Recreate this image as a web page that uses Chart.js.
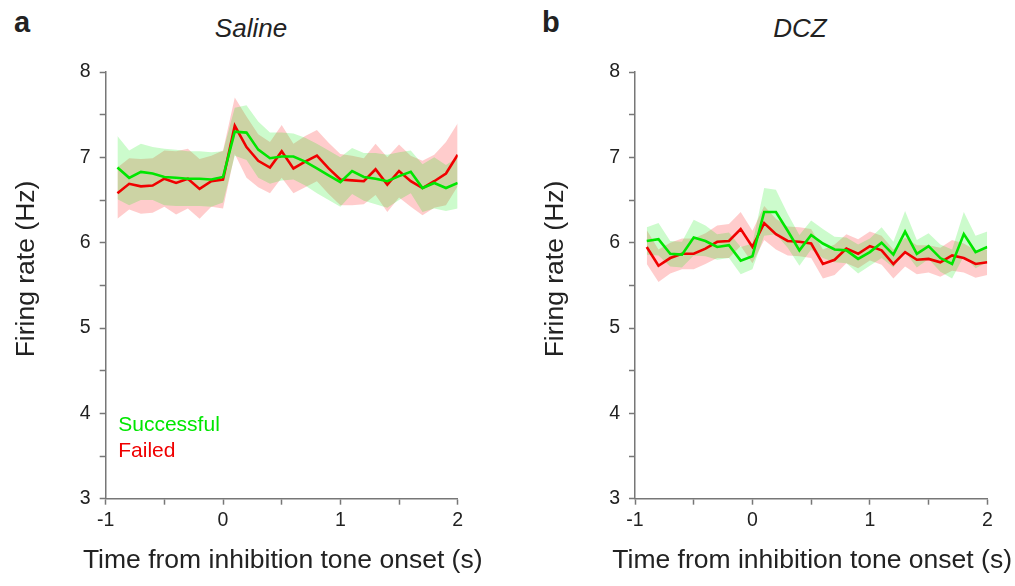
<!DOCTYPE html>
<html>
<head>
<meta charset="utf-8">
<script src="https://cdn.jsdelivr.net/npm/chart.js@4"></script>
<style>
  body { margin: 0; background: #fff; width: 1015px; height: 586px; position: relative; overflow: hidden; font-family: "Liberation Sans", Arial, sans-serif; color: #222; }
  .panel { position: absolute; top: 0; height: 586px; }
  .tag { position: absolute; font-weight: bold; font-size: 29px; line-height: 29px; }
  .ttl { position: absolute; font-style: italic; font-size: 26px; line-height: 26px; width: 200px; text-align: center; }
</style>
</head>
<body>
<div class="tag" style="left:14px; top:8px;">a</div>
<div class="tag" style="left:542px; top:8px;">b</div>
<div class="ttl" style="left:151px; top:15px;">Saline</div>
<div class="ttl" style="left:700px; top:15px;">DCZ</div>
<div class="panel" style="left:0; width:520px;"><canvas id="chartA" width="520" height="586"></canvas></div>
<div class="panel" style="left:520px; width:495px;"><canvas id="chartB" width="495" height="586"></canvas></div>
<script>
// time bins (s from inhibition tone onset)
const times = [-0.9, -0.8, -0.7, -0.6, -0.5, -0.4, -0.3, -0.2, -0.1, 0.0,
               0.1, 0.2, 0.3, 0.4, 0.5, 0.6, 0.7, 0.8, 0.9, 1.0,
               1.1, 1.2, 1.3, 1.4, 1.5, 1.6, 1.7, 1.8, 1.9, 2.0];

// Saline
const salineSuccess = [6.88, 6.76, 6.83, 6.81, 6.77, 6.76, 6.75, 6.75, 6.74, 6.77,
                       7.30, 7.29, 7.09, 6.99, 7.01, 7.01, 6.95, 6.87, 6.79, 6.71,
                       6.84, 6.77, 6.75, 6.72, 6.78, 6.83, 6.64, 6.70, 6.64, 6.70];
const salineSuccessSem = [0.37, 0.32, 0.33, 0.31, 0.33, 0.33, 0.32, 0.32, 0.32, 0.30,
                          0.28, 0.32, 0.33, 0.30, 0.28, 0.27, 0.28, 0.29, 0.29, 0.29,
                          0.27, 0.28, 0.30, 0.31, 0.28, 0.25, 0.28, 0.30, 0.27, 0.30];
const salineFailed = [6.58, 6.69, 6.66, 6.67, 6.75, 6.70, 6.75, 6.63, 6.72, 6.74,
                      7.37, 7.12, 6.96, 6.88, 7.07, 6.87, 6.95, 7.02, 6.87, 6.74,
                      6.73, 6.72, 6.86, 6.68, 6.84, 6.72, 6.64, 6.72, 6.81, 7.03];
const salineFailedSem = [0.30, 0.30, 0.32, 0.32, 0.33, 0.37, 0.35, 0.35, 0.30, 0.34,
                         0.33, 0.36, 0.31, 0.30, 0.31, 0.29, 0.30, 0.30, 0.30, 0.30,
                         0.29, 0.27, 0.30, 0.32, 0.31, 0.30, 0.32, 0.31, 0.37, 0.37];

// DCZ
const dczSuccess = [6.02, 6.04, 5.87, 5.86, 6.06, 6.02, 5.95, 5.97, 5.79, 5.84,
                    6.36, 6.36, 6.14, 5.91, 6.09, 5.99, 5.92, 5.91, 5.81, 5.89,
                    6.00, 5.86, 6.13, 5.87, 5.96, 5.82, 5.75, 6.10, 5.89, 5.95];
const dczSuccessSem = [0.16, 0.19, 0.15, 0.15, 0.21, 0.18, 0.15, 0.15, 0.16, 0.15,
                       0.28, 0.26, 0.20, 0.18, 0.17, 0.17, 0.15, 0.15, 0.17, 0.16,
                       0.18, 0.15, 0.24, 0.16, 0.15, 0.16, 0.17, 0.26, 0.19, 0.18];
const dczFailed = [5.95, 5.73, 5.82, 5.87, 5.87, 5.93, 6.01, 6.02, 6.16, 5.95,
                   6.23, 6.10, 6.02, 6.01, 5.99, 5.75, 5.80, 5.93, 5.87, 5.96,
                   5.91, 5.75, 5.89, 5.80, 5.81, 5.77, 5.85, 5.82, 5.75, 5.77];
const dczFailedSem = [0.20, 0.19, 0.18, 0.18, 0.18, 0.18, 0.19, 0.20, 0.20, 0.19,
                      0.20, 0.18, 0.17, 0.17, 0.17, 0.17, 0.18, 0.17, 0.17, 0.17,
                      0.17, 0.17, 0.17, 0.17, 0.16, 0.17, 0.18, 0.17, 0.16, 0.15];

const GREEN = "#00e600";
const RED = "#f00000";
const GREEN_FILL = "rgba(0, 235, 0, 0.2)";
const RED_FILL = "rgba(255, 0, 0, 0.2)";
const AXIS = "#777";
const FONT = "'Liberation Sans', Arial, sans-serif";

Chart.defaults.font.family = FONT;
Chart.defaults.color = "#222";

function pts(vals) {
    return times.map((t, i) => ({ x: t, y: vals[i] }));
}

function band(mean, sem, fill, order) {
    return [
        {
            data: pts(mean.map((m, i) => m + sem[i])),
            borderWidth: 0, pointRadius: 0, backgroundColor: fill,
            fill: "+1", order: order
        },
        {
            data: pts(mean.map((m, i) => m - sem[i])),
            borderWidth: 0, pointRadius: 0, fill: false, order: order
        }
    ];
}

function line(mean, color, order) {
    return {
        data: pts(mean), borderColor: color, borderWidth: 2.6,
        pointRadius: 0, fill: false, tension: 0, order: order
    };
}

// axis titles (wider than the plot, so Chart.js would squeeze them) and the legend text
const panelText = {
    id: "panelText",
    afterDraw(chart, args, opts) {
        const ctx = chart.ctx;
        const area = chart.chartArea;
        const xs = chart.scales.x, ys = chart.scales.y;
        ctx.save();
        ctx.fillStyle = "#222";
        ctx.font = "26.5px " + FONT;
        ctx.textAlign = "center";
        ctx.textBaseline = "alphabetic";
        ctx.fillText("Time from inhibition tone onset (s)", (area.left + area.right) / 2 + 1, 567.5);
        ctx.save();
        ctx.translate(opts.yTitleX, 269);
        ctx.rotate(-Math.PI / 2);
        ctx.fillText("Firing rate (Hz)", 0, 0);
        ctx.restore();
        if (opts.legend) {
            ctx.font = "21px " + FONT;
            ctx.textAlign = "left";
            ctx.textBaseline = "middle";
            ctx.fillStyle = GREEN;
            ctx.fillText("Successful", xs.getPixelForValue(-0.893), ys.getPixelForValue(3.86));
            ctx.fillStyle = RED;
            ctx.fillText("Failed", xs.getPixelForValue(-0.893), ys.getPixelForValue(3.56));
        }
        ctx.restore();
    }
};

function makeChart(id, success, successSem, failed, failedSem, yScaleWidth, yTitleX, padRight, showLegend) {
    new Chart(document.getElementById(id), {
        type: "line",
        data: {
            datasets: [
                ...band(failed, failedSem, RED_FILL, 4),
                ...band(success, successSem, GREEN_FILL, 3),
                line(failed, RED, 2),
                line(success, GREEN, 1)
            ]
        },
        options: {
            responsive: false,
            animation: false,
            layout: { padding: { top: 72, right: padRight, bottom: 0, left: 0 } },
            plugins: {
                legend: { display: false },
                tooltip: { enabled: false },
                panelText: { yTitleX: yTitleX, legend: showLegend }
            },
            scales: {
                x: {
                    type: "linear", min: -1, max: 2,
                    afterFit: s => { s.height = 87.3; },
                    border: { color: AXIS, width: 1.5 },
                    grid: { drawOnChartArea: false, drawTicks: true, tickLength: 6, color: AXIS, tickWidth: 1.5 },
                    ticks: {
                        stepSize: 0.5, padding: 4, font: { size: 19.5 }, maxRotation: 0,
                        callback: v => Number.isInteger(v) ? String(v) : ""
                    }
                },
                y: {
                    min: 3, max: 8,
                    afterFit: s => { s.width = yScaleWidth; },
                    border: { color: AXIS, width: 1.5 },
                    grid: { drawOnChartArea: false, drawTicks: true, tickLength: 6, color: AXIS, tickWidth: 1.5 },
                    ticks: {
                        stepSize: 0.5, padding: 9, font: { size: 19.5 },
                        callback: v => Number.isInteger(v) ? String(v) : ""
                    }
                }
            }
        },
        plugins: [panelText]
    });
}

makeChart("chartA", salineSuccess, salineSuccessSem, salineFailed, salineFailedSem, 105.7, 33.5, 62.3, true);
makeChart("chartB", dczSuccess, dczSuccessSem, dczFailed, dczFailedSem, 115, 42.5, 27.7, false);
</script>
</body>
</html>
